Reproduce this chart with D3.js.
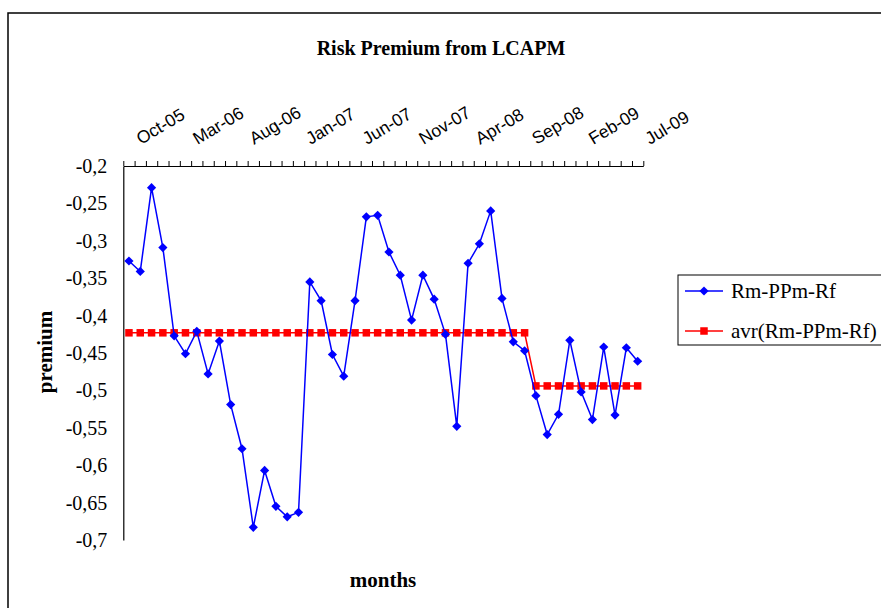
<!DOCTYPE html>
<html><head><meta charset="utf-8">
<script src="https://cdn.jsdelivr.net/npm/d3@7"></script>
<style>body{margin:0;background:#fff;} svg{display:block}</style>
</head><body><svg id="c" width="881" height="608"></svg>
<script>
const months = ["Oct-05","Nov-05","Dec-05",
  "Jan-06","Feb-06","Mar-06","Apr-06","May-06","Jun-06","Jul-06","Aug-06","Sep-06","Oct-06","Nov-06","Dec-06",
  "Jan-07","Feb-07","Mar-07","Apr-07","May-07","Jun-07","Jul-07","Aug-07","Sep-07","Oct-07","Nov-07","Dec-07",
  "Jan-08","Feb-08","Mar-08","Apr-08","May-08","Jun-08","Jul-08","Aug-08","Sep-08","Oct-08","Nov-08","Dec-08",
  "Jan-09","Feb-09","Mar-09","Apr-09","May-09","Jun-09","Jul-09"];
const premium = [-0.327,-0.341,-0.229,-0.309,-0.427,-0.451,-0.421,-0.478,-0.434,-0.519,
  -0.578,-0.683,-0.607,-0.655,-0.669,-0.663,-0.355,-0.380,-0.452,-0.481,
  -0.380,-0.268,-0.266,-0.315,-0.346,-0.406,-0.346,-0.378,-0.425,-0.548,
  -0.330,-0.304,-0.260,-0.377,-0.435,-0.447,-0.507,-0.559,-0.532,-0.433,
  -0.502,-0.539,-0.442,-0.533,-0.443,-0.461];
const avgPremium = [-0.423,-0.423,-0.423,-0.423,-0.423,-0.423,-0.423,-0.423,-0.423,-0.423,
  -0.423,-0.423,-0.423,-0.423,-0.423,-0.423,-0.423,-0.423,-0.423,-0.423,
  -0.423,-0.423,-0.423,-0.423,-0.423,-0.423,-0.423,-0.423,-0.423,-0.423,
  -0.423,-0.423,-0.423,-0.423,-0.423,-0.423,-0.494,-0.494,-0.494,-0.494,
  -0.494,-0.494,-0.494,-0.494,-0.494,-0.494];
const tickLabels = ["Oct-05","Mar-06","Aug-06","Jan-07","Jun-07","Nov-07","Apr-08","Sep-08","Feb-09","Jul-09"];
const yTicks = [-0.2,-0.25,-0.3,-0.35,-0.4,-0.45,-0.5,-0.55,-0.6,-0.65,-0.7];
const seriesNames = ["Rm-PPm-Rf","avr(Rm-PPm-Rf)"];

const serif = "'Liberation Serif','Times New Roman',serif";
const sans = "'Liberation Sans',Arial,sans-serif";
const svg = d3.select("#c");

// chart frame
svg.append("rect").attr("x",8).attr("y",13).attr("width",900).attr("height",620)
  .attr("fill","#fff").attr("stroke","#000").attr("stroke-width",1.5);

const pLeft = 123.3, pRight = 643.3, pTop = 166, pBottom = 540;
const x = d3.scaleBand().domain(months).range([pLeft,pRight]).padding(0);
const cx = d => x(d) + x.bandwidth()/2;
const xi = d3.scaleLinear().domain([0, months.length]).range([pLeft,pRight]);
const y = d3.scaleLinear().domain([-0.7,-0.2]).range([pBottom,pTop]);
const fmt = v => (Math.round(v*100)/100).toString().replace(".", ",");

// y axis
const gy = svg.append("g").attr("transform",`translate(${pLeft},0)`)
  .call(d3.axisLeft(y).tickValues(yTicks).tickSize(0).tickPadding(16).tickFormat(fmt));
gy.select(".domain").attr("stroke","#000").attr("stroke-width",1.2);
gy.selectAll("text").attr("font-family",serif).attr("font-size",20).attr("fill","#000");

// x axis (top)
const gx = svg.append("g").attr("transform",`translate(0,${pTop})`)
  .call(d3.axisTop(xi).tickValues(d3.range(0, months.length+1)).tickSize(5).tickSizeOuter(0).tickFormat(""));
gx.select(".domain").attr("stroke","#000").attr("stroke-width",1.2);
gx.selectAll(".tick line").attr("stroke","#000").attr("stroke-width",1);

svg.append("g").selectAll("text").data(tickLabels).join("text")
  .attr("transform", d => `translate(${cx(d)+12},${pTop-21}) rotate(-31)`)
  .attr("font-family",sans).attr("font-size",17.5).attr("fill","#000")
  .text(d => d);

// average series
const line = d3.line().x((d,i)=>cx(months[i])).y(d=>y(d));
svg.append("path").datum(avgPremium).attr("d",line).attr("fill","none")
  .attr("stroke","#f00").attr("stroke-width",1.5);
svg.append("g").selectAll("rect").data(avgPremium).join("rect")
  .attr("x",(d,i)=>cx(months[i])-3.75).attr("y",d=>y(d)-3.75)
  .attr("width",7.5).attr("height",7.5).attr("fill","#f00");

// main series
svg.append("path").datum(premium).attr("d",line).attr("fill","none")
  .attr("stroke","#00f").attr("stroke-width",1.5);
const diamond = r => `M0,${-r}L${r},0L0,${r}L${-r},0Z`;
svg.append("g").selectAll("path").data(premium).join("path")
  .attr("transform",(d,i)=>`translate(${cx(months[i])},${y(d)})`)
  .attr("d",diamond(4.6)).attr("fill","#00f");

// titles
svg.append("text").attr("x",441).attr("y",55).attr("text-anchor","middle")
  .attr("font-family",serif).attr("font-weight","bold").attr("font-size",20).text("Risk Premium from LCAPM");
svg.append("text").attr("transform","translate(52,352) rotate(-90)").attr("text-anchor","middle")
  .attr("font-family",serif).attr("font-weight","bold").attr("font-size",21).text("premium");
svg.append("text").attr("x",383).attr("y",587).attr("text-anchor","middle")
  .attr("font-family",serif).attr("font-weight","bold").attr("font-size",21).text("months");

// legend
const lg = svg.append("g");
lg.append("rect").attr("x",678).attr("y",275).attr("width",210).attr("height",70)
  .attr("fill","#fff").attr("stroke","#000").attr("stroke-width",1);
const colors = ["#00f","#f00"];
seriesNames.forEach((n,i)=>{
  const yy = 291 + i*40;
  lg.append("line").attr("x1",685).attr("x2",723).attr("y1",yy).attr("y2",yy)
    .attr("stroke",colors[i]).attr("stroke-width",1.5);
  if(i===0) lg.append("path").attr("transform",`translate(704,${yy})`).attr("d",diamond(4.6)).attr("fill",colors[i]);
  else lg.append("rect").attr("x",704-3.75).attr("y",yy-3.75).attr("width",7.5).attr("height",7.5).attr("fill",colors[i]);
  lg.append("text").attr("x",731).attr("y",yy).attr("dy","0.35em")
    .attr("font-family",serif).attr("font-size",21).attr("fill","#000").text(n);
});
</script></body></html>
